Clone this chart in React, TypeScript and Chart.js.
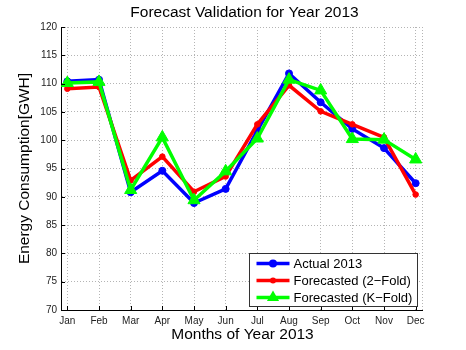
import React, { useEffect, useRef } from "react";
import { Chart, registerables } from "chart.js";

Chart.register(...registerables);

const months = ["Jan", "Feb", "Mar", "Apr", "May", "Jun", "Jul", "Aug", "Sep", "Oct", "Nov", "Dec"];
const monthIndex = [1, 2, 3, 4, 5, 6, 7, 8, 9, 10, 11, 12];
const actual2013 = [110.4, 110.7, 90.8, 94.6, 88.9, 91.4, 101.7, 111.8, 106.7, 102.0, 98.6, 92.4];
const forecast2Fold = [109.1, 109.4, 92.9, 97.1, 90.9, 93.6, 102.8, 109.7, 105.1, 102.8, 100.5, 90.4];
const forecastKFold = [110.1, 110.3, 91.2, 100.5, 89.4, 94.5, 100.3, 110.7, 108.8, 100.2, 100.1, 96.6];
const yTicks = [70, 75, 80, 85, 90, 95, 100, 105, 110, 115, 120];

const seriesNames = ["Actual 2013", "Forecasted (2\u2212Fold)", "Forecasted (K\u2212Fold)"];
const titleText = "Forecast Validation for Year 2013";
const xTitle = "Months of Year 2013";
const yTitle = "Energy Consumption[GWH]";

const FONT = "'Liberation Sans', Arial, Helvetica, sans-serif";

const toPoints = (vals: number[]) => vals.map((v, i) => ({ x: monthIndex[i], y: v }));

const decorPlugin = {
  id: "decor",
  afterDraw(chart: any) {
    const ctx = chart.ctx as CanvasRenderingContext2D;
    const ca = chart.chartArea;
    const xs = chart.scales.x;
    const ys = chart.scales.y;
    ctx.save();
    // dotted right edge
    ctx.strokeStyle = "#b4b4b4";
    ctx.lineWidth = 1;
    ctx.setLineDash([1, 2]);
    ctx.beginPath();
    ctx.moveTo(ca.right + 0.5, ca.top);
    ctx.lineTo(ca.right + 0.5, ca.bottom);
    ctx.stroke();
    ctx.setLineDash([]);
    // inward tick marks
    ctx.strokeStyle = "#000";
    ctx.beginPath();
    for (const v of yTicks) {
      const py = Math.round(ys.getPixelForValue(v)) + 0.5;
      ctx.moveTo(ca.left, py);
      ctx.lineTo(ca.left + 4, py);
    }
    for (const m of monthIndex) {
      const px = Math.round(xs.getPixelForValue(m)) + 0.5;
      ctx.moveTo(px, ca.bottom);
      ctx.lineTo(px, ca.bottom - 4);
    }
    ctx.stroke();
    // titles
    ctx.fillStyle = "#000";
    ctx.font = `15.5px ${FONT}`;
    ctx.textAlign = "center";
    ctx.textBaseline = "middle";
    ctx.fillText(titleText, (ca.left + ca.right) / 2 + 3, 12.5);
    ctx.fillText(xTitle, (ca.left + ca.right) / 2 + 1, 335);
    ctx.save();
    ctx.translate(25, (ca.top + ca.bottom) / 2);
    ctx.rotate(-Math.PI / 2);
    ctx.fillText(yTitle, 0, 0);
    ctx.restore();

    // legend
    const w = 168;
    const h = 53;
    const x0 = Math.round(ca.right - 5 - w) + 0.5;
    const y0 = Math.round(ca.bottom - 4 - h) + 0.5;
    ctx.fillStyle = "#fff";
    ctx.fillRect(x0, y0, w, h);
    ctx.strokeStyle = "#333";
    ctx.lineWidth = 1;
    ctx.strokeRect(x0, y0, w, h);
    const colors = ["#0000ff", "#ff0000", "#00ff00"];
    ctx.font = `13px ${FONT}`;
    ctx.textAlign = "left";
    for (let i = 0; i < 3; i++) {
      const ly = y0 + 10 + i * 17;
      ctx.strokeStyle = colors[i];
      ctx.fillStyle = colors[i];
      ctx.lineWidth = 3.5;
      ctx.beginPath();
      ctx.moveTo(x0 + 7, ly);
      ctx.lineTo(x0 + 40, ly);
      ctx.stroke();
      const mx = x0 + 23.5;
      ctx.beginPath();
      if (i === 0) {
        ctx.arc(mx, ly, 4, 0, Math.PI * 2);
      } else if (i === 1) {
        ctx.arc(mx, ly, 3, 0, Math.PI * 2);
      } else {
        const r = 7;
        ctx.moveTo(mx, ly - r);
        ctx.lineTo(mx + r * 0.866, ly + r * 0.5);
        ctx.lineTo(mx - r * 0.866, ly + r * 0.5);
        ctx.closePath();
      }
      ctx.fill();
      ctx.fillStyle = "#000";
      ctx.fillText(seriesNames[i], x0 + 44, ly + 0.5);
    }
    ctx.restore();
  },
};

export default function App() {
  const canvasRef = useRef<HTMLCanvasElement | null>(null);

  useEffect(() => {
    document.body.style.margin = "0";
    const canvas = canvasRef.current;
    if (!canvas) return;
    Chart.defaults.font.family = FONT;
    const chart = new Chart(canvas, {
      type: "line",
      data: {
        datasets: [
          {
            label: seriesNames[0],
            data: toPoints(actual2013),
            borderColor: "#0000ff",
            backgroundColor: "#0000ff",
            borderWidth: 3.5,
            pointStyle: "circle",
            pointRadius: 3.5,
            pointBorderWidth: 1,
            order: 3,
          },
          {
            label: seriesNames[1],
            data: toPoints(forecast2Fold),
            borderColor: "#ff0000",
            backgroundColor: "#ff0000",
            borderWidth: 3.5,
            pointStyle: "circle",
            pointRadius: 2.8,
            pointBorderWidth: 1,
            order: 2,
          },
          {
            label: seriesNames[2],
            data: toPoints(forecastKFold),
            borderColor: "#00ff00",
            backgroundColor: "#00ff00",
            borderWidth: 3.5,
            pointStyle: "triangle",
            pointRadius: 7,
            pointBorderWidth: 1,
            order: 1,
          },
        ],
      },
      options: {
        responsive: false,
        animation: false,
        events: [],
        layout: { padding: { left: 0, right: 44, top: 27, bottom: 0 } },
        plugins: {
          legend: { display: false },
          tooltip: { enabled: false },
          title: { display: false },
        },
        scales: {
          x: {
            type: "linear",
            min: 0.8,
            max: 12.2,
            afterBuildTicks: (s: any) => {
              s.ticks = monthIndex.map((v) => ({ value: v }));
            },
            afterFit: (s: any) => {
              s.height = 40;
            },
            ticks: {
              callback: (v: any) => months[Number(v) - 1] ?? "",
              color: "#222",
              font: { size: 10, family: FONT },
              padding: 5,
              maxRotation: 0,
              autoSkip: false,
            },
            grid: { color: "#b4b4b4", drawTicks: false, lineWidth: 1 },
            border: { display: true, color: "#000", width: 1, dash: [1, 2] },
          },
          y: {
            type: "linear",
            min: 70,
            max: 120,
            afterBuildTicks: (s: any) => {
              s.ticks = yTicks.map((v) => ({ value: v }));
            },
            afterFit: (s: any) => {
              s.width = 61;
            },
            ticks: {
              color: "#222",
              font: { size: 10, family: FONT },
              padding: 4,
            },
            grid: { color: "#b4b4b4", drawTicks: false, lineWidth: 1 },
            border: { display: true, color: "#000", width: 1, dash: [1, 2] },
          },
        },
      },
      plugins: [decorPlugin],
    } as any);
    return () => chart.destroy();
  }, []);

  return (
    <div style={{ width: 466, height: 350 }}>
      <canvas ref={canvasRef} width={466} height={350} style={{ width: 466, height: 350, display: "block" }} />
    </div>
  );
}
